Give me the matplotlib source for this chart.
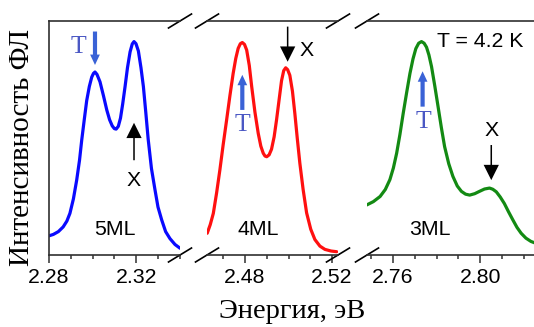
import matplotlib
matplotlib.use("Agg")
import matplotlib.pyplot as plt
from matplotlib.ticker import FixedLocator, MultipleLocator
from matplotlib.patches import FancyArrowPatch

# ---- data (energy, eV ; PL intensity, arb. units) ----
e_5ml = [2.2797, 2.2820, 2.2843, 2.2865, 2.2882, 2.2896, 2.2912, 2.2927, 2.2940,
         2.2950, 2.2962, 2.2973, 2.2985, 2.2996, 2.3004, 2.3011, 2.3020, 2.3034,
         2.3050, 2.3065, 2.3078, 2.3090, 2.3100, 2.3108, 2.3118, 2.3128, 2.3138,
         2.3149, 2.3160, 2.3172, 2.3182, 2.3190, 2.3199, 2.3210, 2.3222, 2.3233,
         2.3244, 2.3255, 2.3270, 2.3286, 2.3300, 2.3317, 2.3335, 2.3355, 2.3378,
         2.3401]
i_5ml = [0.081, 0.088, 0.100, 0.120, 0.145, 0.178, 0.240, 0.320, 0.405,
         0.490, 0.580, 0.660, 0.720, 0.760, 0.776, 0.782, 0.772, 0.740,
         0.680, 0.620, 0.578, 0.552, 0.540, 0.538, 0.550, 0.585, 0.645,
         0.720, 0.800, 0.868, 0.902, 0.912, 0.903, 0.872, 0.800, 0.720,
         0.610, 0.495, 0.370, 0.280, 0.205, 0.150, 0.100, 0.070, 0.045,
         0.029]

e_4ml = [2.4627, 2.4641, 2.4655, 2.4670, 2.4685, 2.4700, 2.4716, 2.4731, 2.4746,
         2.4758, 2.4769, 2.4779, 2.4788, 2.4798, 2.4808, 2.4820, 2.4831, 2.4846,
         2.4861, 2.4873, 2.4884, 2.4892, 2.4900, 2.4911, 2.4922, 2.4934, 2.4945,
         2.4957, 2.4968, 2.4978, 2.4987, 2.4996, 2.5006, 2.5018, 2.5029, 2.5040,
         2.5052, 2.5067, 2.5083, 2.5102, 2.5121, 2.5144, 2.5167, 2.5195, 2.5221]
i_4ml = [0.093, 0.130, 0.178, 0.265, 0.363, 0.470, 0.577, 0.680, 0.776,
         0.840, 0.883, 0.903, 0.908, 0.900, 0.876, 0.810, 0.720, 0.610,
         0.520, 0.465, 0.435, 0.423, 0.420, 0.428, 0.452, 0.505, 0.577,
         0.665, 0.745, 0.788, 0.800, 0.792, 0.768, 0.700, 0.605, 0.500,
         0.392, 0.280, 0.180, 0.110, 0.066, 0.038, 0.024, 0.017, 0.014]

e_3ml = [2.7480, 2.7510, 2.7541, 2.7565, 2.7586, 2.7602, 2.7617, 2.7632, 2.7647,
         2.7663, 2.7678, 2.7692, 2.7705, 2.7718, 2.7731, 2.7743, 2.7754, 2.7765,
         2.7777, 2.7792, 2.7807, 2.7822, 2.7837, 2.7856, 2.7875, 2.7895, 2.7914,
         2.7933, 2.7952, 2.7975, 2.7997, 2.8020, 2.8043, 2.8058, 2.8074, 2.8092,
         2.8111, 2.8130, 2.8150, 2.8169, 2.8188, 2.8210, 2.8233, 2.8250]
i_3ml = [0.214, 0.228, 0.250, 0.280, 0.322, 0.372, 0.435, 0.515, 0.605,
         0.695, 0.776, 0.838, 0.882, 0.905, 0.912, 0.905, 0.888, 0.855,
         0.805, 0.722, 0.634, 0.545, 0.463, 0.390, 0.336, 0.295, 0.272,
         0.260, 0.256, 0.262, 0.272, 0.282, 0.286, 0.281, 0.270, 0.248,
         0.220, 0.185, 0.150, 0.118, 0.093, 0.072, 0.058, 0.052]

ticks_5ml = [2.28, 2.32]
ticks_4ml = [2.48, 2.52]
ticks_3ml = [2.76, 2.80]
tick_labels_5ml = ["2.28", "2.32"]
tick_labels_4ml = ["2.48", "2.52"]
tick_labels_3ml = ["2.76", "2.80"]

xlims = [(2.28, 2.3401), (2.4626, 2.5227), (2.7481, 2.8247)]
labels = ["5ML", "4ML", "3ML"]
colors = ["#0a0aff", "#ff1010", "#138a13"]

SANS = ["Liberation Sans", "DejaVu Sans"]
SERIF = ["Liberation Serif", "DejaVu Serif"]
plt.rcParams["font.family"] = SANS

W, H = 534, 327
fig = plt.figure(figsize=(W / 100, H / 100), dpi=100)
bottom, top = 255, 21
rects = [(49, 180), (207, 338), (367, 534)]
axes = []
spine_col = "#303030"
FS = 15.3
for k, (x0, x1) in enumerate(rects):
    ax = fig.add_axes([x0 / W, 1 - bottom / H, (x1 - x0) / W, (bottom - top) / H])
    ax.set_xlim(*xlims[k])
    ax.set_ylim(0, 1)
    for s in ax.spines.values():
        s.set_color(spine_col)
        s.set_linewidth(1.2)
    ax.spines["right"].set_visible(False)
    if k > 0:
        ax.spines["left"].set_visible(False)
    ax.set_yticks([])
    ax.tick_params(axis="x", which="major", direction="out", length=6, width=1.1,
                   color=spine_col, labelsize=FS, pad=3.5)
    ax.tick_params(axis="x", which="minor", direction="out", length=3.2, width=1.1,
                   color=spine_col)
    ax.xaxis.set_minor_locator(MultipleLocator(0.01))
    axes.append(ax)

for ax, e, i, c in zip(axes, [e_5ml, e_4ml, e_3ml], [i_5ml, i_4ml, i_3ml], colors):
    ax.plot(e, i, color=c, lw=2.3, solid_capstyle="round", solid_joinstyle="round")

for ax, t, tl in zip(axes, [ticks_5ml, ticks_4ml, ticks_3ml],
                     [tick_labels_5ml, tick_labels_4ml, tick_labels_3ml]):
    ax.xaxis.set_major_locator(FixedLocator(t))
    ax.set_xticklabels(tl)

# break marks
def slash(ax, xf):
    bb = ax.get_position()
    wpx = bb.width * W
    hpx = bb.height * H
    dx, dy = 11.5 / wpx, 7.0 / hpx
    for yf in (0, 1):
        ax.plot([xf - dx, xf + dx], [yf - dy, yf + dy], transform=ax.transAxes,
                color="black", lw=1.2, clip_on=False)

slash(axes[0], 1.0)
slash(axes[1], 0.0)
slash(axes[1], 1.0)
slash(axes[2], 0.0)

blue_arrow = "#3a62d6"
t_color = "#4b58c4"

def arrow(ax, tail, tip, kind):
    if kind == "blue":
        style = "simple,head_length=7.5,head_width=7.0,tail_width=3.0"
        col = blue_arrow
    else:
        style = "simple,head_length=11,head_width=11,tail_width=1.1"
        col = "black"
    p = FancyArrowPatch(tail, tip, arrowstyle=style, mutation_scale=1,
                        color=col, lw=0, shrinkA=0, shrinkB=0)
    ax.add_patch(p)

TFS = 18.5
# 5ML
a = axes[0]
arrow(a, (2.3011, 0.955), (2.3011, 0.812), "blue")
a.text(2.2933, 0.89, "T", color=t_color, family=SERIF, fontsize=TFS, ha="center", va="center")
arrow(a, (2.3190, 0.405), (2.3190, 0.565), "black")
a.text(2.3187, 0.32, "X", fontsize=FS, ha="center", va="center")
a.text(2.3103, 0.107, "5ML", fontsize=FS, ha="center", va="center")

# 4ML
a = axes[1]
arrow(a, (2.4788, 0.62), (2.4788, 0.77), "blue")
a.text(2.4788, 0.556, "T", color=t_color, family=SERIF, fontsize=TFS, ha="center", va="center")
arrow(a, (2.4996, 0.976), (2.4996, 0.826), "black")
a.text(2.5083, 0.876, "X", fontsize=FS, ha="center", va="center")
a.text(2.4861, 0.107, "4ML", fontsize=FS, ha="center", va="center")

# 3ML
a = axes[2]
arrow(a, (2.7736, 0.634), (2.7736, 0.785), "blue")
a.text(2.7738, 0.57, "T", color=t_color, family=SERIF, fontsize=TFS, ha="center", va="center")
a.text(2.8051, 0.534, "X", fontsize=FS, ha="center", va="center")
arrow(a, (2.8051, 0.47), (2.8051, 0.32), "black")
a.text(2.7769, 0.107, "3ML", fontsize=FS, ha="center", va="center")
a.text(2.8002, 0.912, "T = 4.2 K", fontsize=FS, ha="center", va="center")

fig.text(292 / W, 1 - 311 / H, "Энергия, эВ", family=SERIF, fontsize=20.5,
         ha="center", va="center")
fig.text(22 / W, 1 - 147 / H, "Интенсивность ФЛ", family=SERIF, fontsize=21,
         ha="center", va="center", rotation=90)

fig.savefig("out.png", dpi=100)
